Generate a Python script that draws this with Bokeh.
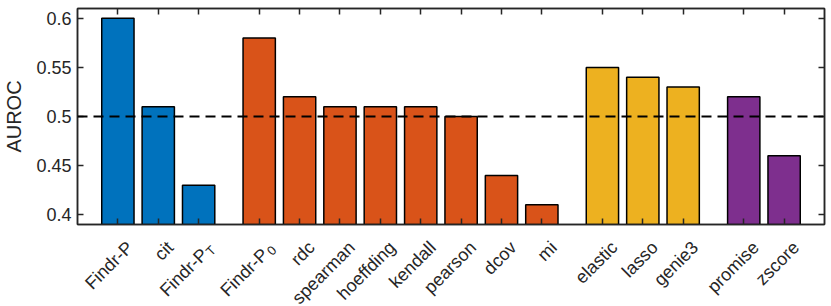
import math
from bokeh.plotting import figure
from bokeh.layouts import column
from bokeh.models import (FixedTicker, LinearAxis, Span, Range1d,
                          ColumnDataSource, CustomJSTickFormatter)
from bokeh.core.properties import value
from bokeh.embed import file_html
from bokeh.resources import INLINE

# ---- data ----
methods = ["Findr-P", "cit", "Findr-P", "Findr-P", "rdc", "spearman", "hoeffding",
           "kendall", "pearson", "dcov", "mi", "elastic", "lasso", "genie3",
           "promise", "zscore"]
subscripts = ["", "", "T", "0", "", "", "", "", "", "", "", "", "", "", "", ""]
auroc = [0.60, 0.51, 0.43, 0.58, 0.52, 0.51, 0.51, 0.51, 0.50, 0.44, 0.41,
         0.55, 0.54, 0.53, 0.52, 0.46]
groups = [0, 0, 0, 1, 1, 1, 1, 1, 1, 1, 1, 2, 2, 2, 3, 3]
group_colors = ["#0072BD", "#D95319", "#EDB120", "#7E2F8E"]
ytick_values = [0.4, 0.45, 0.5, 0.55, 0.6]
ytick_labels = ["0.4", "0.45", "0.5", "0.55", "0.6"]
baseline = 0.5
y_min, y_max = 0.39, 0.61

positions = [i + 0.5 * g for i, g in enumerate(groups)]
colors = [group_colors[g] for g in groups]

AX = "#262626"
FONT = "Liberation Sans"
ANG = math.pi / 4

p = figure(width=831, height=226, output_backend="svg", toolbar_location=None,
           x_range=Range1d(-1, positions[-1] + 1), y_range=Range1d(y_min, y_max),
           x_axis_location=None,
           min_border_left=77, min_border_right=7, min_border_top=8,
           min_border_bottom=2)
p.grid.visible = False
p.outline_line_color = AX
p.outline_line_width = 1.5
p.background_fill_color = "white"
p.border_fill_color = "white"

src = ColumnDataSource(dict(x=positions, top=auroc, color=colors))
p.vbar(x="x", top="top", bottom=0, width=0.8, fill_color="color",
       line_color="black", line_width=1.5, source=src)

p.add_layout(Span(location=baseline, dimension="width", line_color="black",
                  line_width=2, line_dash="10 6"))

empty = CustomJSTickFormatter(code="return ''")

def style_axis(ax):
    ax.major_tick_in = 6
    ax.major_tick_out = 0
    ax.minor_tick_in = 0
    ax.minor_tick_out = 0
    ax.axis_line_color = AX
    ax.axis_line_width = 1.5
    ax.major_tick_line_color = AX
    ax.major_tick_line_width = 1.5

def tick_only_axis(ticks, side):
    ax = LinearAxis(ticker=FixedTicker(ticks=ticks), formatter=empty,
                    major_label_standoff=0, major_label_text_font_size="0px",
                    axis_label_standoff=0)
    style_axis(ax)
    p.add_layout(ax, side)

# left axis
ya = p.yaxis[0]
ya.ticker = FixedTicker(ticks=ytick_values)
ya.major_label_overrides = {v: l for v, l in zip(ytick_values, ytick_labels)}
ya.major_label_text_font = FONT
ya.major_label_text_font_size = "18px"
ya.major_label_text_color = AX
ya.major_label_standoff = 6
ya.axis_label = "AUROC"
ya.axis_label_text_font = FONT
ya.axis_label_text_font_size = "20px"
ya.axis_label_text_font_style = "normal"
ya.axis_label_text_color = AX
ya.axis_label_standoff = 8
style_axis(ya)

tick_only_axis(positions, "below")
tick_only_axis(positions, "above")
tick_only_axis(ytick_values, "right")

# ---- rotated method names in a strip below (shares the x scale) ----
lab = figure(width=831, height=80, output_backend="svg", toolbar_location=None,
             x_range=p.x_range, y_range=Range1d(-80, 0),
             x_axis_type=None, y_axis_type=None,
             min_border_left=77, min_border_right=7, min_border_top=0,
             min_border_bottom=0)
lab.grid.visible = False
lab.outline_line_color = None
lab.background_fill_color = "white"
lab.border_fill_color = "white"

plain_x = [x for x, s in zip(positions, subscripts) if not s]
plain_t = [m for m, s in zip(methods, subscripts) if not s]
lab.text(x=plain_x, y=[-18] * len(plain_x), text=plain_t, angle=ANG, x_offset=12,
         text_align="right", text_baseline="middle",
         text_font=value(FONT), text_font_size="18px", text_color=AX)

subm_x = [x for x, s in zip(positions, subscripts) if s]
subm_t = [m for m, s in zip(methods, subscripts) if s]
lab.text(x=subm_x, y=[-25] * len(subm_x), text=subm_t, angle=ANG, x_offset=6,
         text_align="right", text_baseline="middle",
         text_font=value(FONT), text_font_size="18px", text_color=AX)

sub_t = [s for s in subscripts if s]
lab.text(x=subm_x, y=[-21.5] * len(subm_x), text=sub_t, angle=ANG, x_offset=15,
         text_align="right", text_baseline="middle",
         text_font=value(FONT), text_font_size="13px", text_color=AX)

layout = column(p, lab, spacing=0)
open("out.html", "w").write(file_html(layout, INLINE))
